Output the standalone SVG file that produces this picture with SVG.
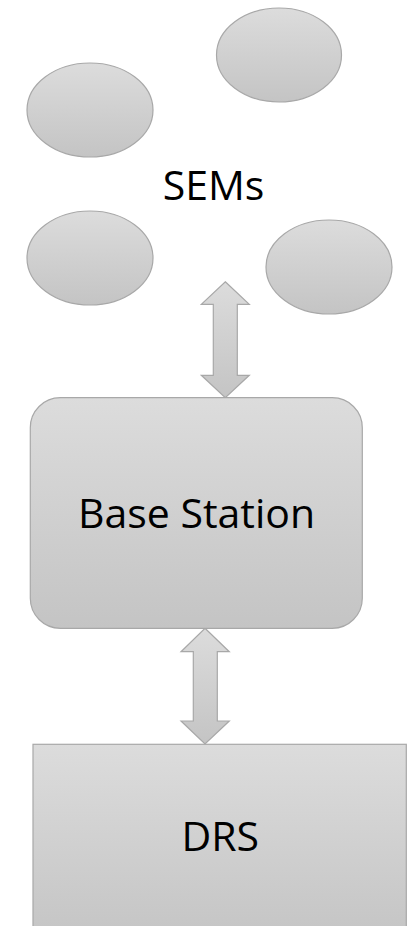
<svg xmlns="http://www.w3.org/2000/svg" width="415" height="926" viewBox="0 0 415 926">
<defs>
<linearGradient id="g" x1="0" y1="0" x2="0" y2="1">
<stop offset="0" stop-color="#dcdcdc"/>
<stop offset="1" stop-color="#c4c4c4"/>
</linearGradient>
</defs>
<style>
.s{fill:url(#g);stroke:#a8a8a8;stroke-width:1.2}
.t{font-family:"Open Sans","Liberation Sans",sans-serif;font-size:41px;fill:#000;text-anchor:middle}
</style>
<rect width="415" height="926" fill="#fff"/>
<g id="sems">
<ellipse class="s" cx="279" cy="55" rx="62.5" ry="47"/>
<ellipse class="s" cx="90" cy="110" rx="63" ry="47"/>
<ellipse class="s" cx="90" cy="258" rx="63" ry="47"/>
<ellipse class="s" cx="329" cy="267" rx="63" ry="47"/>
<text class="t" x="213.5" y="200">SEMs</text>
</g>
<g id="connectors">
<path class="s" d="M225.3,281.7 L249.3,304.3 L237.3,304.3 L237.3,375.3 L249.3,375.3 L225.3,397.7 L201.3,375.3 L213.3,375.3 L213.3,304.3 L201.3,304.3 Z"/>
<path class="s" d="M205,628.3 L229.3,651.7 L217.3,651.7 L217.3,721 L229.3,721 L205,744 L181,721 L193.3,721 L193.3,651.7 L181,651.7 Z"/>
</g>
<g id="base-station">
<rect class="s" x="30.3" y="397.7" width="332" height="230.6" rx="30" ry="30"/>
<text class="t" x="196.5" y="528.3">Base Station</text>
</g>
<g id="drs">
<rect class="s" x="33" y="744.3" width="373.3" height="200"/>
<text class="t" x="220.2" y="850.7">DRS</text>
</g>
</svg>
